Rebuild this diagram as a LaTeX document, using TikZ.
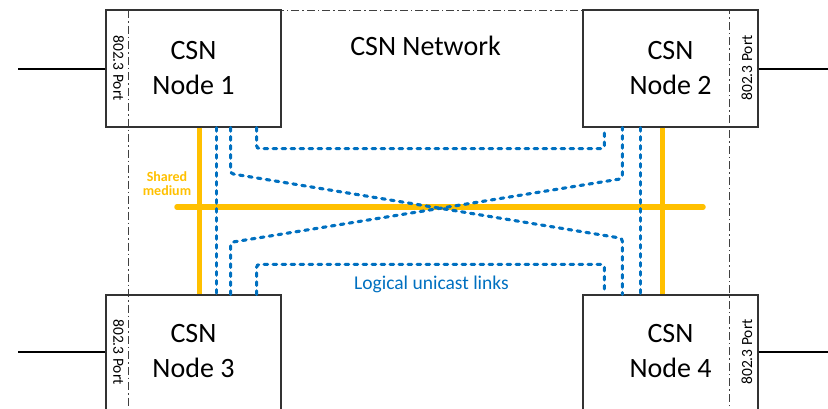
\documentclass[tikz,border=0pt]{standalone}
\usepackage{fontspec}
\setmainfont{Carlito}
\definecolor{gold}{HTML}{FFC000}
\definecolor{ublue}{HTML}{0070C0}
\begin{document}
\begin{tikzpicture}[x=1pt,y=-1pt,
  csnbox/.style={draw=black!80,line width=1.2pt,minimum width=175pt,minimum height=117pt,inner sep=0pt},
  nodetext/.style={align=center,font=\fontsize{28}{35}\selectfont,inner sep=0pt},
  port/.style={font=\fontsize{15.5}{17}\selectfont,inner sep=0pt},
  ext/.style={line width=2pt,black},
  netb/.style={line width=0.9pt,black!75,dash pattern=on 8pt off 3pt on 1.5pt off 3pt},
  medium/.style={line width=5.5pt,gold},
  ulink/.style={line width=3.1pt,ublue,dash pattern=on 3.6pt off 5.4pt,line cap=round,rounded corners=3pt}]
\useasboundingbox (0,0) rectangle (828,408);
% network boundary
\draw[netb] (128,10) rectangle (729,440);
% boxes
\node[csnbox] (n1) at (193.5,68.5) {};
\node[csnbox] (n2) at (670.5,68.5) {};
\node[csnbox] (n3) at (193.5,353.5) {};
\node[csnbox] (n4) at (670.5,353.5) {};
\node[nodetext] (t1) at (n1.center) {CSN\\Node 1};
\node[nodetext] (t2) at (n2.center) {CSN\\Node 2};
\node[nodetext] (t3) at ([yshift=2.5pt]n3.center) {CSN\\Node 3};
\node[nodetext] (t4) at ([yshift=2.5pt]n4.center) {CSN\\Node 4};
% ports
\node[port,rotate=-90] (p1) at (118.5,68) {802.3 Port};
\node[port,rotate=90] (p2) at (747,68) {802.3 Port};
\node[port,rotate=-90] (p3) at (118.5,352) {802.3 Port};
\node[port,rotate=90] (p4) at (747,352) {802.3 Port};
% external links
\coordinate (e1) at (18,68.5);
\coordinate (e2) at (832,68.5);
\coordinate (e3) at (18,352);
\coordinate (e4) at (832,352);
\draw[ext] (n1.west) -- (e1);
\draw[ext] (n2.east) -- (e2);
\draw[ext] ([yshift=1.5pt]n3.west) -- (e3);
\draw[ext] ([yshift=1.5pt]n4.east) -- (e4);
% title
\node[font=\fontsize{28}{35}\selectfont,anchor=base,inner sep=0pt] (title) at (425.5,55) {CSN Network};
% shared medium
\coordinate (sm1) at (177,207);
\coordinate (sm2) at (703,207);
\draw[medium,line cap=round] (sm1) -- (sm2);
\draw[medium] ([xshift=-82pt]n1.south east) -- ([xshift=-82pt]n3.north east);
\draw[medium] ([xshift=80pt]n2.south west) -- ([xshift=80pt]n4.north west);
\node[align=center,text=gold,font=\fontsize{14}{14.5}\selectfont\bfseries,inner sep=0pt] (sml) at (167,183.5) {Shared\\medium};
% logical unicast links
\draw[ulink] ([xshift=-65pt]n1.south east) -- ([xshift=-65pt]n3.north east);
\draw[ulink] ([xshift=58pt]n2.south west) -- ([xshift=58pt]n4.north west);
\draw[ulink] ([xshift=-25pt]n1.south east) -- ++(0,21) -| ([xshift=22pt]n2.south west);
\draw[ulink] ([xshift=-25pt]n3.north east) -- ++(0,-30) -| ([xshift=22pt]n4.north west);
\draw[ulink] ([xshift=-51pt]n1.south east) -- ++(0,46) -- ([xshift=40pt,yshift=56pt]n4.north west) -- ([xshift=40pt]n4.north west);
\draw[ulink] ([xshift=-51pt]n3.north east) -- ++(0,-52) -- ([xshift=40pt,yshift=-51pt]n2.south west) -- ([xshift=40pt]n2.south west);
\node[text=ublue,font=\fontsize{19.5}{22}\selectfont,anchor=base,inner sep=0pt] (ull) at (431.5,289) {Logical unicast links};
\end{tikzpicture}
\end{document}
